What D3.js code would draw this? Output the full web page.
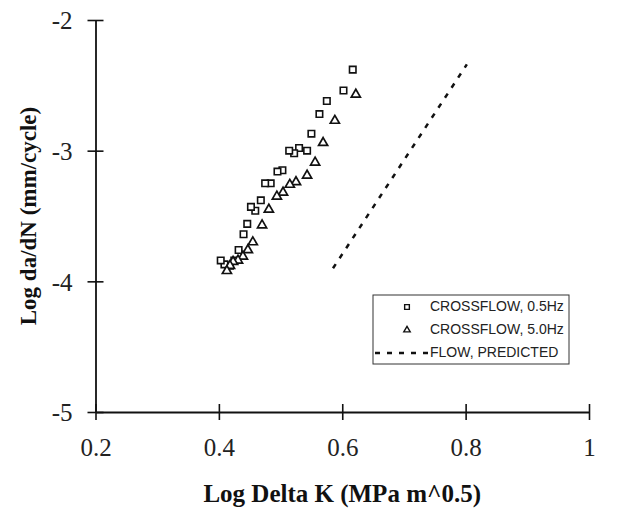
<!DOCTYPE html>
<html>
<head>
<meta charset="utf-8">
<script src="https://cdn.jsdelivr.net/npm/d3@7"></script>
<style>
  body { margin: 0; background: #fff; }
  svg { display: block; }
</style>
</head>
<body>
<div id="chart"></div>
<script>
// data
const cross05X = [0.617, 0.602, 0.575, 0.563, 0.550, 0.543, 0.530, 0.522, 0.514, 0.503, 0.495, 0.484, 0.475, 0.468, 0.459, 0.452, 0.446, 0.440, 0.432, 0.425, 0.418, 0.409, 0.403];
const cross05Y = [-2.38, -2.54, -2.62, -2.72, -2.87, -3.00, -2.98, -3.02, -3.00, -3.15, -3.16, -3.25, -3.25, -3.38, -3.46, -3.43, -3.56, -3.64, -3.76, -3.84, -3.88, -3.87, -3.84];
const cross50X = [0.622, 0.588, 0.569, 0.556, 0.543, 0.525, 0.515, 0.504, 0.494, 0.481, 0.470, 0.455, 0.447, 0.439, 0.431, 0.423, 0.418, 0.413];
const cross50Y = [-2.57, -2.77, -2.94, -3.09, -3.19, -3.24, -3.26, -3.32, -3.35, -3.45, -3.57, -3.70, -3.76, -3.81, -3.84, -3.85, -3.88, -3.92];
const predictedX = [0.585, 0.802];
const predictedY = [-3.90, -2.34];

const xTicks = [0.2, 0.4, 0.6, 0.8, 1];
const yTicks = [-5, -4, -3, -2];
const legendLabels = ["CROSSFLOW, 0.5Hz", "CROSSFLOW, 5.0Hz", "FLOW, PREDICTED"];

const width = 625, height = 508;

const svg = d3.select("#chart").append("svg")
    .attr("width", width)
    .attr("height", height);

svg.append("rect").attr("width", width).attr("height", height).attr("fill", "#fff");

const x = d3.scaleLinear().domain([0.2, 1]).range([95.5, 589]);
const y = d3.scaleLinear().domain([-5, -2]).range([412, 20]);

// axes (ticks cross the line on both sides)
const xAxis = svg.append("g")
    .attr("transform", `translate(0,${y(-5)})`)
    .call(d3.axisBottom(x).tickValues(xTicks).tickFormat(d => String(d)).tickSizeOuter(0).tickPadding(0));
xAxis.selectAll(".tick line").attr("y1", -8).attr("y2", 8);
xAxis.selectAll(".tick text").attr("y", 26);

const yAxis = svg.append("g")
    .attr("transform", `translate(${x(0.2)},0)`)
    .call(d3.axisLeft(y).tickValues(yTicks).tickFormat(d => String(d)).tickSizeOuter(0).tickPadding(0));
yAxis.selectAll(".tick line").attr("x1", -8).attr("x2", 8);
yAxis.selectAll(".tick text").attr("x", -23).attr("dy", "0.35em");

svg.selectAll(".domain").attr("stroke", "#111").attr("stroke-width", 1.8);
svg.selectAll(".tick line").attr("stroke", "#111").attr("stroke-width", 1.6);
svg.selectAll(".tick text")
    .attr("fill", "#222")
    .style("font-family", "'Liberation Serif', 'Times New Roman', serif")
    .style("font-size", "25px");

// axis titles
svg.append("text")
    .attr("x", (x(0.2) + x(1)) / 2)
    .attr("y", 502)
    .attr("text-anchor", "middle")
    .style("font-family", "'Liberation Serif', 'Times New Roman', serif")
    .style("font-size", "25px")
    .style("font-weight", "bold")
    .attr("fill", "#111")
    .text("Log Delta K (MPa m^0.5)");

svg.append("text")
    .attr("transform", `translate(36,${(y(-2) + y(-5)) / 2}) rotate(-90)`)
    .attr("text-anchor", "middle")
    .style("font-family", "'Liberation Serif', 'Times New Roman', serif")
    .style("font-size", "23px")
    .style("font-weight", "bold")
    .attr("fill", "#111")
    .text("Log da/dN (mm/cycle)");

// predicted line
const line = d3.line().x(d => x(d[0])).y(d => y(d[1]));
svg.append("path")
    .datum(predictedX.map((v, i) => [v, predictedY[i]]))
    .attr("fill", "none")
    .attr("stroke", "#111")
    .attr("stroke-width", 2.5)
    .attr("stroke-dasharray", "5,7")
    .attr("d", line);

const sq = d3.symbol().type(d3.symbolSquare).size(42);
const tri = d3.symbol().type(d3.symbolTriangle).size(36);

// 0.5Hz squares
svg.append("g").selectAll("path")
    .data(cross05X.map((v, i) => [v, cross05Y[i]]))
    .join("path")
    .attr("transform", d => `translate(${x(d[0])},${y(d[1])})`)
    .attr("d", sq)
    .attr("fill", "#fff")
    .attr("stroke", "#111")
    .attr("stroke-width", 1.6);

// 5.0Hz triangles
svg.append("g").selectAll("path")
    .data(cross50X.map((v, i) => [v, cross50Y[i]]))
    .join("path")
    .attr("transform", d => `translate(${x(d[0])},${y(d[1])})`)
    .attr("d", tri)
    .attr("fill", "#fff")
    .attr("stroke", "#111")
    .attr("stroke-width", 1.7);

// legend
const legend = svg.append("g").attr("transform", "translate(373,295)");
legend.append("rect")
    .attr("width", 196).attr("height", 69)
    .attr("fill", "#fff")
    .attr("stroke", "#333")
    .attr("stroke-width", 1);

const rowY = [11, 34, 57];
legend.append("path")
    .attr("transform", `translate(34,${rowY[0] + 1})`)
    .attr("d", d3.symbol().type(d3.symbolSquare).size(22))
    .attr("fill", "#fff").attr("stroke", "#111").attr("stroke-width", 1.4);
legend.append("path")
    .attr("transform", `translate(34,${rowY[1] + 1})`)
    .attr("d", d3.symbol().type(d3.symbolTriangle).size(18))
    .attr("fill", "#fff").attr("stroke", "#111").attr("stroke-width", 1.4);
legend.append("line")
    .attr("x1", 2).attr("x2", 55)
    .attr("y1", rowY[2] + 1).attr("y2", rowY[2] + 1)
    .attr("stroke", "#111").attr("stroke-width", 2.5)
    .attr("stroke-dasharray", "5,7");

legend.selectAll("text.lbl")
    .data(legendLabels)
    .join("text")
    .attr("class", "lbl")
    .attr("x", 57)
    .attr("y", (d, i) => rowY[i])
    .attr("dy", "0.35em")
    .style("font-family", "'Liberation Sans', Arial, sans-serif")
    .style("font-size", "14px")
    .attr("fill", "#222")
    .text(d => d);
</script>
</body>
</html>
